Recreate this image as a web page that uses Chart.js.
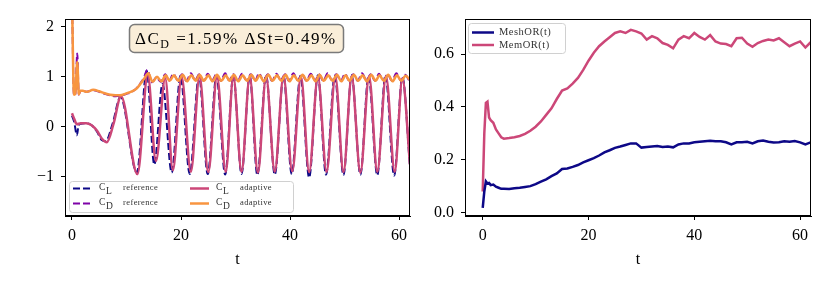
<!DOCTYPE html>
<html>
<head>
<meta charset="utf-8">
<script src="https://cdn.jsdelivr.net/npm/chart.js@4.4.0/dist/chart.umd.min.js"></script>
<style>
  body { margin: 0; background: #fff; }
  #wrap { position: relative; width: 830px; height: 290px; }
  canvas { position: absolute; top: 0; }
</style>
</head>
<body>
<div id="wrap">
  <canvas id="left" width="415" height="290" style="left:0"></canvas>
  <canvas id="right" width="415" height="290" style="left:415px"></canvas>
</div>
<script>
// ---- left panel: lift / drag coefficients ----
const tClAdaptive = [0, 0.4, 0.9, 1.6, 2.6, 3.6, 4.6, 5.5, 6.4, 7.6, 9.0, 12.0, 13.9, 15.4, 17.1, 18.5, 20.1, 21.8, 23.4, 25.0, 26.6, 28.2, 29.6, 31.1, 32.6, 34.1, 35.6, 37.2, 38.8, 40.4, 42.0, 43.5, 45.1, 46.7, 48.3, 49.8, 51.3, 52.9, 54.5, 56.0, 57.6, 59.2, 60.6, 62.0];
const clAdaptive = [0.27, 0.16, 0.05, 0.07, 0.07, 0.03, -0.08, -0.24, -0.31, 0.05, 0.61, -0.95, 1.04, -0.69, 0.97, -0.87, 1.0, -0.9, 1.0, -0.91, 1.0, -0.9, 1.0, -0.9, 1.0, -0.92, 1.0, -0.9, 1.01, -0.89, 1.0, -0.91, 1.0, -0.9, 1.0, -0.91, 1.0, -0.92, 1.0, -0.9, 1.0, -0.9, 0.96, -0.76];

const tClReference = [0, 0.4, 0.9, 1.2, 1.6, 2.6, 3.6, 4.6, 5.4, 6.2, 7.5, 8.9, 11.9, 13.7, 15.1, 16.6, 18.3, 19.9, 21.6, 23.3, 24.9, 26.5, 28.1, 29.6, 31.1, 32.6, 34.0, 35.6, 37.2, 38.8, 40.3, 41.9, 43.5, 45.1, 46.6, 48.2, 49.8, 51.3, 52.9, 54.4, 56.0, 57.5, 59.1, 60.6, 62.0];
const clReference = [0.22, 0.1, -0.17, 0.02, 0.06, 0.07, 0.03, -0.1, -0.26, -0.29, 0.08, 0.6, -0.92, 1.12, -0.76, 0.86, -0.92, 1.02, -0.95, 1.02, -0.95, 1.02, -0.96, 1.02, -0.95, 1.02, -0.97, 1.03, -0.96, 1.02, -0.95, 1.02, -1.02, 1.03, -0.96, 1.02, -0.97, 1.03, -0.96, 1.02, -0.97, 1.03, -0.98, 1.0, -0.8];

const tCdAdaptive = [0, 0.37, 0.6, 0.97, 1.25, 1.5, 2.0, 2.7, 3.9, 5.0, 6.0, 7.0, 8.0, 8.8, 10.0, 11.0, 11.9, 12.5, 13.1,
  14.0, 14.8, 15.6, 16.4, 17.2, 17.9, 18.7, 19.5, 20.3, 21.1, 21.9, 22.7, 23.4, 24.2, 25.0, 25.8, 26.6, 27.4, 28.2, 28.9,
  29.7, 30.5, 31.3, 32.1, 32.9, 33.7, 34.4, 35.2, 36.0, 36.8, 37.6, 38.4, 39.2, 39.9, 40.7, 41.5, 42.3, 43.1, 43.9, 44.7,
  45.4, 46.2, 47.0, 47.8, 48.6, 49.4, 50.2, 50.9, 51.7, 52.5, 53.3, 54.1, 54.9, 55.7, 56.4, 57.2, 58.0, 58.8, 59.6, 60.4,
  61.2, 62.0];
const cdAdaptive = [2.6, 0.64, 0.66, 1.3, 0.65, 0.72, 0.72, 0.7, 0.74, 0.71, 0.67, 0.64, 0.63, 0.63, 0.67, 0.71, 0.77, 0.85, 0.94,
  1.07, 0.9, 1.0, 0.91, 1.03, 0.92, 1.03, 0.92, 1.04, 0.91, 1.03, 0.92, 1.04, 0.92, 1.03, 0.91, 1.04, 0.92, 1.03, 0.92,
  1.04, 0.91, 1.03, 0.92, 1.04, 0.92, 1.03, 0.91, 1.04, 0.92, 1.03, 0.92, 1.04, 0.91, 1.03, 0.92, 1.04, 0.92, 1.03, 0.91,
  1.04, 0.92, 1.03, 0.92, 1.04, 0.91, 1.03, 0.92, 1.04, 0.92, 1.03, 0.91, 1.04, 0.92, 1.03, 0.92, 1.04, 0.91, 1.03, 0.92,
  1.02, 0.94];

const tCdReference = [0, 0.37, 0.6, 0.97, 1.25, 1.5, 2.0, 2.7, 3.9, 5.0, 6.0, 7.0, 8.0, 8.8, 10.0, 11.0, 11.9, 12.6, 13.2, 13.8,
  14.7, 15.5, 16.3, 17.1, 17.8, 18.6, 19.4, 20.2, 21.0, 21.8, 22.6, 23.3, 24.1, 24.9, 25.7, 26.5, 27.3, 28.1, 28.8, 29.6,
  30.4, 31.2, 32.0, 32.8, 33.6, 34.3, 35.1, 35.9, 36.7, 37.5, 38.3, 39.1, 39.8, 40.6, 41.4, 42.2, 43.0, 43.8, 44.6, 45.3,
  46.1, 46.9, 47.7, 48.5, 49.3, 50.1, 50.8, 51.6, 52.4, 53.2, 54.0, 54.8, 55.6, 56.3, 57.1, 57.9, 58.7, 59.5, 60.3, 61.1,
  61.9];
const cdReference = [2.6, 0.63, 0.65, 1.47, 0.64, 0.71, 0.72, 0.7, 0.73, 0.7, 0.66, 0.63, 0.61, 0.62, 0.66, 0.7, 0.78, 0.88, 0.98, 1.14,
  0.89, 0.99, 0.9, 1.05, 0.92, 1.06, 0.93, 1.05, 0.92, 1.07, 0.93, 1.05, 0.92, 1.06, 0.93, 1.05, 0.92, 1.07, 0.93, 1.05,
  0.92, 1.06, 0.93, 1.05, 0.92, 1.07, 0.93, 1.05, 0.92, 1.06, 0.93, 1.05, 0.92, 1.07, 0.93, 1.05, 0.92, 1.06, 0.93, 1.05,
  0.92, 1.07, 0.93, 1.05, 0.92, 1.06, 0.93, 1.05, 0.92, 1.07, 0.93, 1.05, 0.92, 1.06, 0.93, 1.05, 0.92, 1.07, 0.93, 1.04,
  0.92];

const leftXTicks = [0, 20, 40, 60];
const leftYTicks = [-1, 0, 1, 2];
const annotation = { pre: '\u0394C', sub: 'D', post: ' =1.59% \u0394St=0.49%' };

// ---- right panel: occupancy ratios ----
const tRatio = [0, 0.3, 0.6, 0.9, 1.2, 1.5, 2.0, 2.5, 3.0, 3.5, 4, 5, 6, 7, 8, 9, 10, 11, 12, 13, 14, 15, 16, 17, 18, 19, 20,
  21, 22, 23, 24, 25, 26, 27, 28, 29, 30, 31, 32, 33, 34, 35, 36, 37, 38, 39, 40, 41, 42, 43, 44, 45, 46, 47, 48, 49, 50,
  51, 52, 53, 54, 55, 56, 57, 58, 59, 60, 61, 62];
const meshOR = [0.018, 0.08, 0.118, 0.11, 0.112, 0.104, 0.106, 0.098, 0.094, 0.09, 0.09, 0.089, 0.092, 0.094, 0.097, 0.1, 0.108,
  0.117, 0.126, 0.138, 0.148, 0.165, 0.167, 0.173, 0.18, 0.19, 0.198, 0.206, 0.216, 0.228, 0.236, 0.245, 0.25, 0.256, 0.262,
  0.262, 0.246, 0.248, 0.25, 0.252, 0.248, 0.25, 0.247, 0.258, 0.262, 0.262, 0.266, 0.268, 0.27, 0.272, 0.27, 0.27, 0.266,
  0.258, 0.266, 0.266, 0.268, 0.262, 0.27, 0.273, 0.268, 0.265, 0.266, 0.27, 0.268, 0.271, 0.266, 0.258, 0.266];
const memOR = [0.08, 0.3, 0.415, 0.42, 0.36, 0.35, 0.34, 0.315, 0.3, 0.285, 0.28, 0.282, 0.285, 0.29, 0.298, 0.31, 0.325,
  0.345, 0.37, 0.395, 0.43, 0.462, 0.47, 0.488, 0.51, 0.54, 0.575, 0.605, 0.63, 0.648, 0.664, 0.68, 0.686, 0.68, 0.692,
  0.686, 0.678, 0.655, 0.668, 0.66, 0.642, 0.635, 0.622, 0.655, 0.668, 0.66, 0.68, 0.665, 0.655, 0.672, 0.648, 0.64, 0.638,
  0.63, 0.66, 0.662, 0.64, 0.628, 0.642, 0.65, 0.655, 0.652, 0.66, 0.645, 0.63, 0.64, 0.648, 0.625, 0.645];

const rightXTicks = [0, 20, 40, 60];
const rightYTicks = [0.0, 0.2, 0.4, 0.6];

const NAVY = '#0d0887', PURPLE = '#7e03a8', PINK = '#cc4778', ORANGE = '#f89540';
const SERIF = "'Liberation Serif', 'DejaVu Serif', serif";

const pts = (ts, vs) => ts.map((t, i) => ({ x: t, y: vs[i] }));

// frame around the plot area (matplotlib style box)
const framePlugin = {
  id: 'frame',
  afterDatasetsDraw(chart) {
    const { ctx, chartArea: a } = chart;
    ctx.save();
    ctx.strokeStyle = '#000';
    ctx.lineWidth = 1;
    ctx.strokeRect(a.left + 0.5, a.top + 0.5, a.right - a.left - 1, a.bottom - a.top - 1);
    ctx.restore();
  }
};

function roundBox(ctx, x, y, w, h, r, fill, stroke, lw) {
  ctx.beginPath();
  ctx.roundRect(x, y, w, h, r);
  ctx.fillStyle = fill;
  ctx.fill();
  ctx.lineWidth = lw;
  ctx.strokeStyle = stroke;
  ctx.stroke();
}

// left: two-column legend with subscripted labels, plus the delta box
const leftDecor = {
  id: 'leftDecor',
  afterDraw(chart) {
    const ctx = chart.ctx;
    ctx.save();
    // annotation box
    roundBox(ctx, 129.5, 24.5, 214, 28, 5, 'rgba(245,222,179,0.5)', '#7a7a7a', 1.5);
    ctx.fillStyle = '#000';
    ctx.textBaseline = 'alphabetic';
    ctx.letterSpacing = '1.5px';
    ctx.font = '17px ' + SERIF;
    let x = 135, y = 44;
    ctx.fillText(annotation.pre, x, y);
    x += ctx.measureText(annotation.pre).width;
    ctx.font = '12px ' + SERIF;
    ctx.fillText(annotation.sub, x, y + 4);
    x += ctx.measureText(annotation.sub).width;
    ctx.font = '17px ' + SERIF;
    ctx.fillText(annotation.post, x, y);
    ctx.letterSpacing = '0px';

    // legend
    roundBox(ctx, 69.5, 181.5, 224, 31, 3, 'rgba(255,255,255,0.8)', '#d0d0d0', 1);
    const slots = [[73, 188.5], [73, 203.5], [190, 188.5], [190, 203.5]];
    chart.data.datasets.forEach((ds, i) => {
      const [lx, ly] = slots[i];
      ctx.beginPath();
      ctx.setLineDash(ds.borderDash || []);
      ctx.lineWidth = ds.borderWidth;
      ctx.strokeStyle = ds.borderColor;
      ctx.moveTo(lx, ly);
      ctx.lineTo(lx + 19, ly);
      ctx.stroke();
      ctx.setLineDash([]);
      const [sym, sub, word] = ds.label.split(/[_ ]/);
      ctx.fillStyle = '#333';
      ctx.font = '9.5px ' + SERIF;
      ctx.fillText(sym, lx + 26, ly + 1);
      ctx.fillText(sub, lx + 33, ly + 5);
      ctx.letterSpacing = '0.4px';
      ctx.font = '8.5px ' + SERIF;
      ctx.fillText(word, lx + 50, ly + 1);
      ctx.letterSpacing = '0px';
    });
    ctx.restore();
  }
};

const rightLegend = {
  id: 'rightLegend',
  afterDraw(chart) {
    const ctx = chart.ctx;
    ctx.save();
    roundBox(ctx, 53.5, 23.5, 97, 30, 3, 'rgba(255,255,255,0.8)', '#d0d0d0', 1);
    const rows = [32.5, 45];
    chart.data.datasets.forEach((ds, i) => {
      ctx.beginPath();
      ctx.lineWidth = ds.borderWidth;
      ctx.strokeStyle = ds.borderColor;
      ctx.moveTo(57, rows[i]);
      ctx.lineTo(79, rows[i]);
      ctx.stroke();
      ctx.fillStyle = '#333';
      ctx.font = '10.5px ' + SERIF;
      ctx.letterSpacing = '0.5px';
      ctx.textBaseline = 'middle';
      ctx.fillText(ds.label, 84, rows[i]);
      ctx.letterSpacing = '0px';
    });
    ctx.restore();
  }
};

function axes(xMin, xMax, yMin, yMax, xTicks, yTicks, yWidth, yFmt) {
  const tickFont = { family: SERIF, size: 16 };
  const grid = { display: true, drawOnChartArea: false, drawTicks: true, tickLength: 4, color: '#000', lineWidth: 1 };
  return {
    x: {
      type: 'linear', min: xMin, max: xMax,
      grid, border: { display: true, color: '#000', width: 1 },
      ticks: { color: '#000', font: tickFont, padding: 6, maxRotation: 0 },
      afterBuildTicks: s => { s.ticks = xTicks.map(v => ({ value: v })); },
      afterFit: s => { s.height = 74; },
      title: { display: true, text: 't', color: '#000', font: tickFont, padding: { top: 0, bottom: 21 } }
    },
    y: {
      type: 'linear', min: yMin, max: yMax,
      grid, border: { display: true, color: '#000', width: 1 },
      ticks: { color: '#000', font: tickFont, padding: 7, callback: yFmt },
      afterBuildTicks: s => { s.ticks = yTicks.map(v => ({ value: v })); },
      afterFit: s => { s.width = yWidth; }
    }
  };
}

const common = {
  responsive: false,
  animation: false,
  events: [],
  elements: { point: { radius: 0 } },
  plugins: { legend: { display: false }, tooltip: { enabled: false } }
};

new Chart(document.getElementById('left'), {
  type: 'line',
  data: {
    datasets: [
      { label: 'C_L reference', data: pts(tClReference, clReference), borderColor: NAVY, borderWidth: 2, borderDash: [7, 3], cubicInterpolationMode: 'monotone', order: 4 },
      { label: 'C_D reference', data: pts(tCdReference, cdReference), borderColor: PURPLE, borderWidth: 2, borderDash: [7, 3], cubicInterpolationMode: 'monotone', order: 3 },
      { label: 'C_L adaptive', data: pts(tClAdaptive, clAdaptive), borderColor: PINK, borderWidth: 2.5, cubicInterpolationMode: 'monotone', order: 2 },
      { label: 'C_D adaptive', data: pts(tCdAdaptive, cdAdaptive), borderColor: ORANGE, borderWidth: 2.5, cubicInterpolationMode: 'monotone', order: 1 }
    ]
  },
  options: Object.assign({}, common, {
    layout: { padding: { left: 0, right: 5, top: 19, bottom: 0 } },
    scales: axes(-1.28, 62.0, -1.79, 2.16, leftXTicks, leftYTicks, 65, v => (v < 0 ? '\u2212' + Math.abs(v) : String(v)))
  }),
  plugins: [framePlugin, leftDecor]
});

new Chart(document.getElementById('right'), {
  type: 'line',
  data: {
    datasets: [
      { label: 'MeshOR(t)', data: pts(tRatio, meshOR), borderColor: NAVY, borderWidth: 2.5, tension: 0 },
      { label: 'MemOR(t)', data: pts(tRatio, memOR), borderColor: PINK, borderWidth: 2.5, tension: 0 }
    ]
  },
  options: Object.assign({}, common, {
    layout: { padding: { left: 0, right: 19, top: 19, bottom: 0 } },
    scales: axes(-3.35, 62.06, -0.013, 0.733, rightXTicks, rightYTicks, 50, v => v.toFixed(1))
  }),
  plugins: [framePlugin, rightLegend]
});
</script>
</body>
</html>
